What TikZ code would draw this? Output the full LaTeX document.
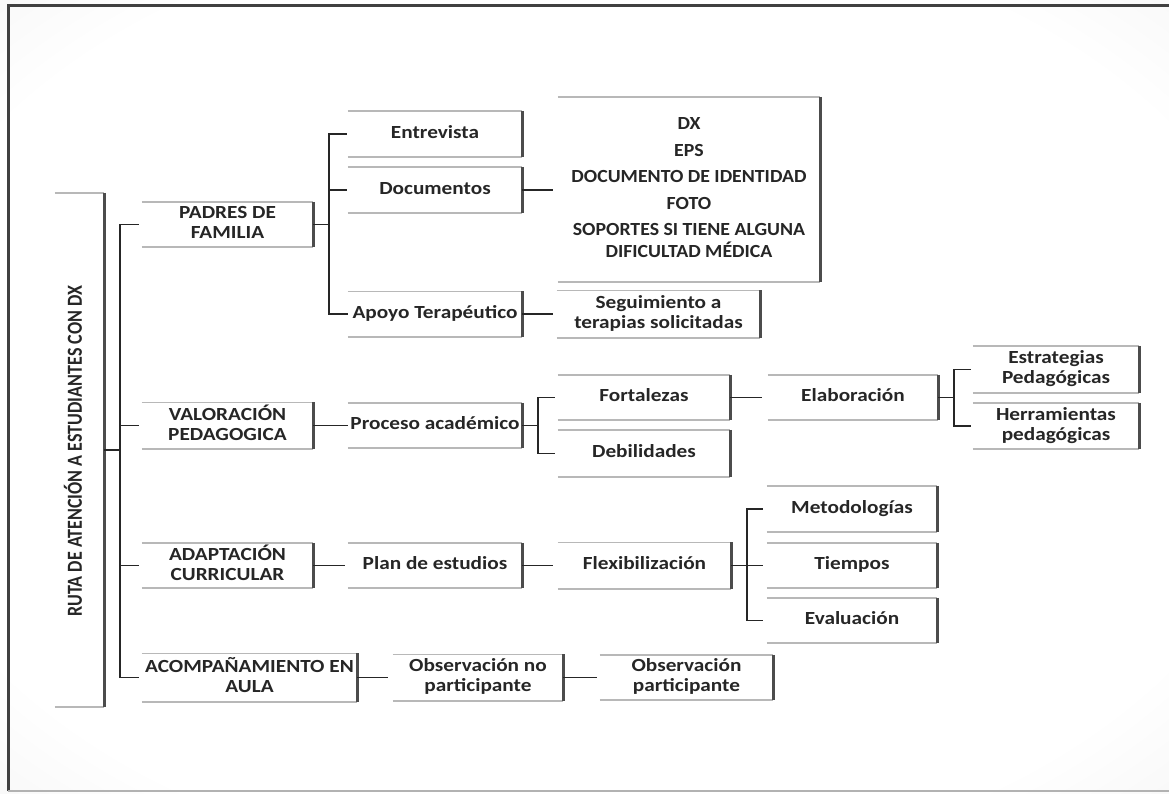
\documentclass[tikz,border=0pt]{standalone}
\usepackage{fontspec}
\setmainfont{Carlito}
\usepackage{graphicx}
\newcommand{\T}[1]{\scalebox{1.15}[1]{\begin{tabular}{@{}c@{}}#1\end{tabular}}}
\newcommand{\TL}[1]{\scalebox{1.07}[1]{\begin{tabular}{@{}c@{}}#1\end{tabular}}}
\pgfdeclareradialshading{bgshade}{\pgfpoint{0bp}{0bp}}{color(0bp)=(white); color(30bp)=(white); color(50bp)=(black!9); color(71bp)=(black!16)}
\begin{document}
\begin{tikzpicture}[x=1pt,y=-1pt,
  bx/.style={inner sep=0pt, fill=white, font=\fontsize{18.5}{20}\selectfont\bfseries, text=black!85},
  boxtb/.style={draw=black!28, line width=1.6pt},
  boxr/.style={draw=black!70, line width=2.6pt},
  conn/.style={draw=black!85, line width=1.8pt},
]
\useasboundingbox (0,0) rectangle (1169,793);
\shade[shading=bgshade] (0,0) rectangle (1169,793);
\draw[black!75, line width=3pt] (1169,5) -- (8,5) -- (8,791);
\draw[black!30, line width=1.5pt] (8,791) -- (1169,791);

% nodes
\node[bx, minimum width=49, minimum height=514] (root) at (79.5,450) {};
\node[inner sep=0pt, font=\bfseries, text=black!85] (roottext) at (73,451) {\rotatebox{90}{\resizebox{330pt}{18pt}{RUTA DE ATENCIÓN A ESTUDIANTES CON DX}}};

\node[bx, minimum width=171, minimum height=45] (padres) at (227.5,224.5) {\T{PADRES DE\\FAMILIA}};
\node[bx, minimum width=171, minimum height=46] (valor) at (227.5,425.5) {\T{VALORACIÓN\\PEDAGOGICA}};
\node[bx, minimum width=171, minimum height=45] (adapt) at (227.5,565.5) {\T{ADAPTACIÓN\\CURRICULAR}};
\node[bx, minimum width=215, minimum height=48] (acomp) at (249.5,677.5) {\T{ACOMPAÑAMIENTO EN\\AULA}};

\node[bx, minimum width=174, minimum height=46] (entre) at (435,134) {\T{Entrevista}};
\node[bx, minimum width=174, minimum height=46] (docs) at (435,190) {\T{Documentos}};
\node[bx, minimum width=174, minimum height=45] (apoyo) at (435,314) {\T{Apoyo Terapéutico}};
\node[bx, minimum width=174, minimum height=45] (proceso) at (435,425.5) {\T{Proceso académico}};
\node[bx, minimum width=174, minimum height=45] (plan) at (435,565.5) {\T{Plan de estudios}};
\node[bx, minimum width=170, minimum height=46] (obsno) at (478,677.5) {\T{Observación no\\participante}};

\node[bx, minimum width=262, minimum height=185] (list) at (689,189.5) {\TL{DX\\[6.5pt] EPS\\[6.5pt] DOCUMENTO DE IDENTIDAD\\[6.5pt] FOTO\\[6.5pt] SOPORTES SI TIENE ALGUNA\\ DIFICULTAD MÉDICA}};
\node[bx, minimum width=203, minimum height=47] (segui) at (658.5,314) {\T{Seguimiento a\\terapias solicitadas}};
\node[bx, minimum width=172, minimum height=45] (fort) at (644,397.5) {\T{Fortalezas}};
\node[bx, minimum width=172, minimum height=47] (debil) at (644,453.5) {\T{Debilidades}};
\node[bx, minimum width=173, minimum height=46] (flex) at (644.5,565.5) {\T{Flexibilización}};
\node[bx, minimum width=173, minimum height=45] (obsp) at (686.5,677.5) {\T{Observación\\participante}};

\node[bx, minimum width=170, minimum height=45] (elab) at (853,397.5) {\T{Elaboración}};
\node[bx, minimum width=170, minimum height=46] (metod) at (852,509) {\T{Metodologías}};
\node[bx, minimum width=170, minimum height=45] (tiempos) at (852,565.5) {\T{Tiempos}};
\node[bx, minimum width=170, minimum height=45] (eval) at (852,620.5) {\T{Evaluación}};

\node[bx, minimum width=166, minimum height=47] (estr) at (1056,369.5) {\T{Estrategias\\Pedagógicas}};
\node[bx, minimum width=166, minimum height=46] (herr) at (1056,426) {\T{Herramientas\\pedagógicas}};

% box edges
\foreach \n in {root,padres,valor,adapt,acomp,entre,docs,apoyo,proceso,plan,obsno,list,segui,fort,debil,flex,obsp,elab,metod,tiempos,eval,estr,herr}{
  \draw[boxtb] (\n.north west) -- (\n.north east);
  \draw[boxtb] (\n.south west) -- (\n.south east);
  \draw[boxr] (\n.north east) -- (\n.south east);
}

% connectors
\coordinate (b0) at (120,450);
\coordinate (b1) at (329,0);
\coordinate (b2) at (538,0);
\coordinate (b3) at (954,0);
\coordinate (b4) at (747,0);

\draw[conn] (root.east) -- (b0);
\draw[conn] ([xshift=-3pt]padres.west) -- (padres.west -| b0) -- (acomp.west -| b0) -- ([xshift=-3pt]acomp.west);
\draw[conn] ([xshift=-3pt]valor.west) -- (valor.west -| b0);
\draw[conn] ([xshift=-3pt]adapt.west) -- (adapt.west -| b0);

\draw[conn] (padres.east) -- (padres.east -| b1);
\draw[conn] ([xshift=-1pt]entre.west) -- (entre.west -| b1) -- (apoyo.west -| b1) -- (apoyo.west);
\draw[conn] ([xshift=-1pt]docs.west) -- (docs.west -| b1);
\draw[conn] (docs.east) -- ([xshift=-5pt]docs.east -| list.west);
\draw[conn] (apoyo.east) -- ([xshift=-4pt]segui.west);

\draw[conn] (valor.east) -- (proceso.west);
\draw[conn] (proceso.east) -- (proceso.east -| b2);
\draw[conn] ([xshift=-3pt]fort.west) -- (fort.west -| b2) -- (debil.west -| b2) -- ([xshift=-3pt]debil.west);
\draw[conn] (fort.east) -- ([xshift=-6pt]elab.west);
\draw[conn] (elab.east) -- (elab.east -| b3);
\draw[conn] ([xshift=-2pt]estr.west) -- (estr.west -| b3) -- (herr.west -| b3) -- ([xshift=-2pt]herr.west);

\draw[conn] (adapt.east) -- ([xshift=-3pt]plan.west);
\draw[conn] (plan.east) -- ([xshift=-5pt]flex.west);
\draw[conn] (flex.east) -- (flex.east -| b4);
\draw[conn] ([xshift=-4pt]metod.west) -- (metod.west -| b4) -- (eval.west -| b4) -- ([xshift=-4pt]eval.west);
\draw[conn] ([xshift=-4pt]tiempos.west) -- (tiempos.west -| b4);

\draw[conn] (acomp.east) -- ([xshift=-5pt]obsno.west);
\draw[conn] (obsno.east) -- ([xshift=-3pt]obsp.west);
\end{tikzpicture}
\end{document}
